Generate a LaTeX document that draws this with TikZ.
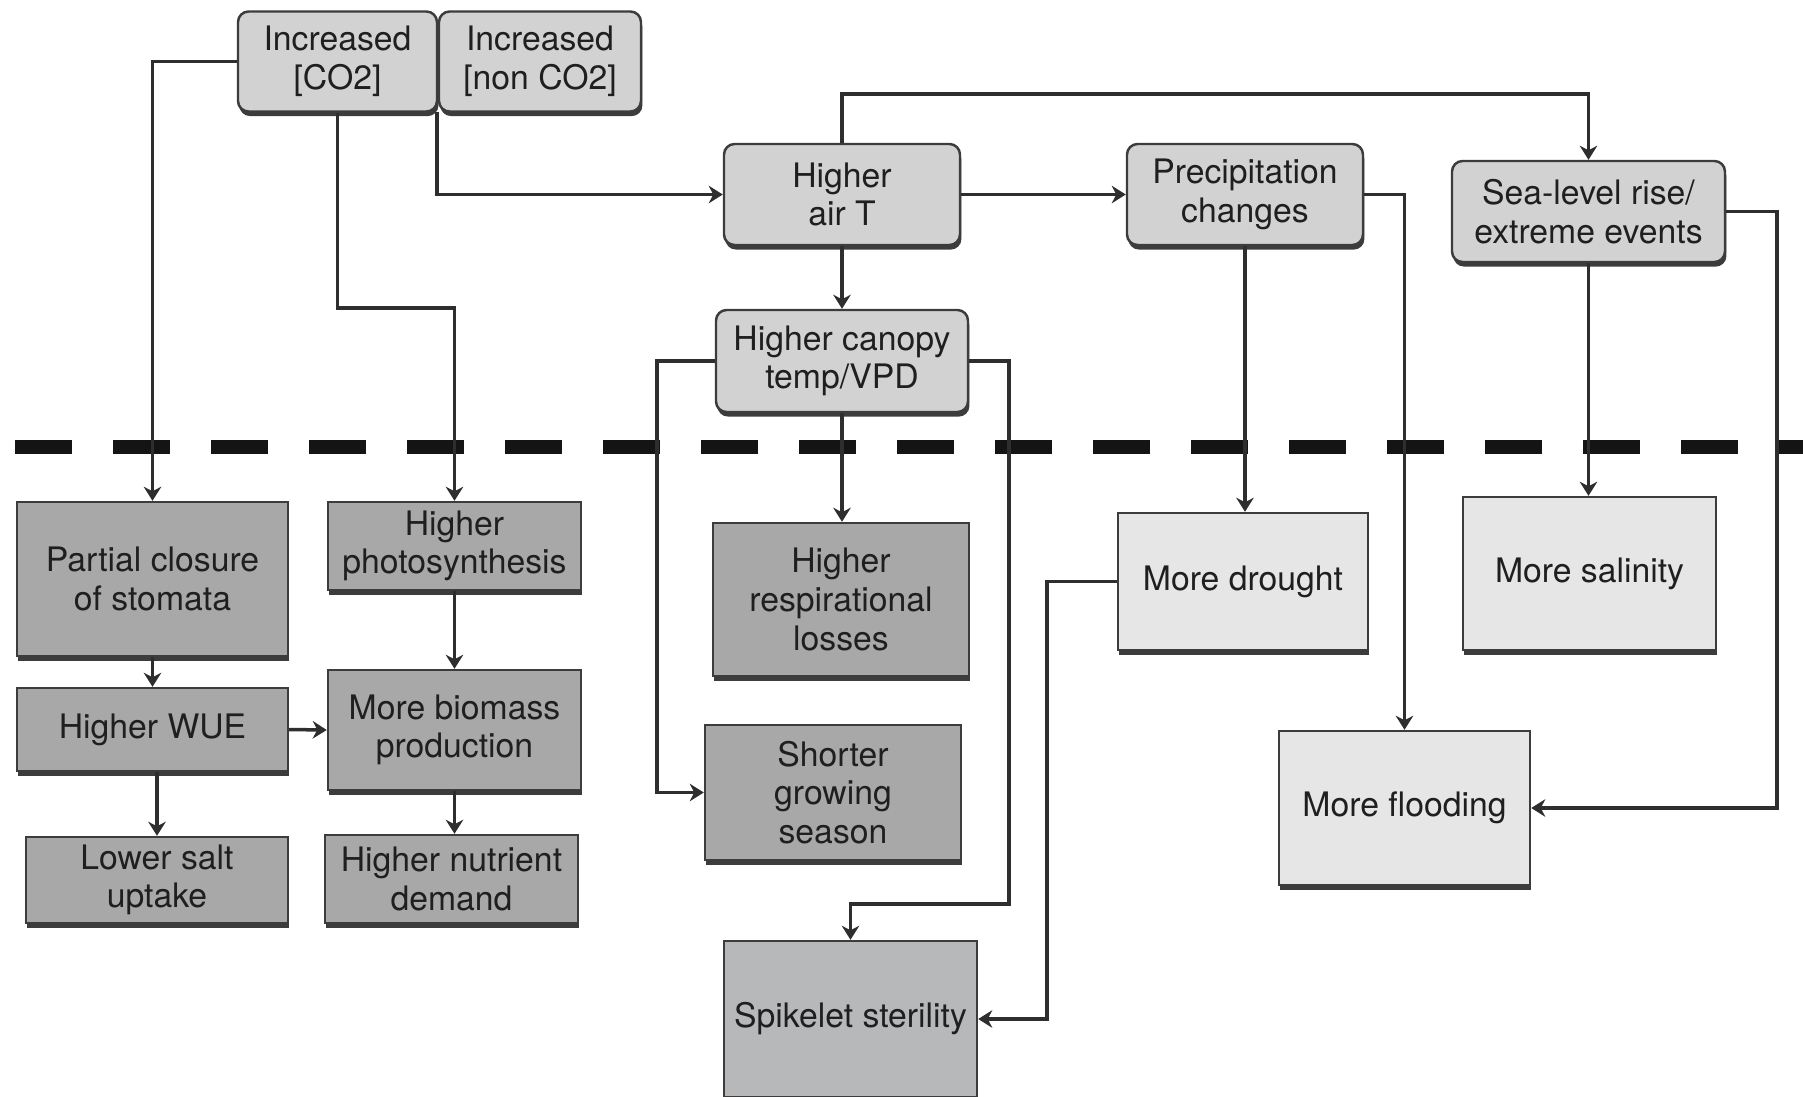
\documentclass[tikz,border=0pt]{standalone}
\usepackage{fontspec}
\setmainfont{TeX Gyre Heros}
\usetikzlibrary{arrows.meta,shadows}

\definecolor{topfill}{HTML}{D2D2D2}
\definecolor{darkfill}{HTML}{A8A8A8}
\definecolor{midfill}{HTML}{B6B8BA}
\definecolor{palefill}{HTML}{E6E6E6}
\definecolor{edge}{HTML}{3C3C3C}
\definecolor{wire}{HTML}{2E2E2E}

\tikzset{
  box/.style={draw=edge, line width=0.7pt, align=center, inner sep=0pt,
    font=\fontsize{9.6}{11}\selectfont, text=black!88,
    drop shadow={shadow xshift=0.4pt, shadow yshift=-1.3pt, fill=edge, opacity=1}},
  driver/.style={box, fill=topfill, rounded corners=3pt},
  effect/.style={box, fill=darkfill},
  mideffect/.style={box, fill=midfill},
  paleeffect/.style={box, fill=palefill},
  arr/.style={draw=wire, line width=1pt, -{Stealth[length=4pt,width=5pt]}},
  plainwire/.style={draw=wire, line width=1pt},
  divider/.style={draw=black!92, line width=4pt, dash pattern=on 0.57cm off 0.41cm}
}

\begin{document}
\begin{tikzpicture}
\useasboundingbox (0,0) rectangle (18.03,-10.96);

% boundary between climate drivers and crop responses
\draw[divider] (0.15,-4.47) -- (18.1,-4.47);

% climate drivers
\node[driver, minimum width=1.99cm, minimum height=1.00cm] (co2) at (3.375,-0.615) {Increased\\{}[CO2]};
\node[driver, minimum width=2.02cm, minimum height=1.00cm] (nonco2) at (5.40,-0.615) {Increased\\{}[non CO2]};
\node[driver, minimum width=2.36cm, minimum height=1.01cm] (airT) at (8.42,-1.945) {Higher\\air T};
\node[driver, minimum width=2.36cm, minimum height=1.01cm] (precip) at (12.45,-1.945) {Precipitation\\changes};
\node[driver, minimum width=2.73cm, minimum height=1.01cm] (sea) at (15.885,-2.115) {Sea-level rise/\\extreme events};
\node[driver, minimum width=2.52cm, minimum height=1.02cm] (canopy) at (8.42,-3.61) {Higher canopy\\temp/VPD};

% CO2 responses
\node[effect, minimum width=2.71cm, minimum height=1.54cm] (partial) at (1.525,-5.79) {Partial closure\\of stomata};
\node[effect, minimum width=2.53cm, minimum height=0.88cm] (photo) at (4.545,-5.46) {Higher\\photosynthesis};
\node[effect, minimum width=2.71cm, minimum height=0.83cm] (wue) at (1.525,-7.295) {Higher WUE};
\node[effect, minimum width=2.53cm, minimum height=1.20cm] (biomass) at (4.545,-7.30) {More biomass\\production};
\node[effect, minimum width=2.62cm, minimum height=0.86cm] (salt) at (1.57,-8.80) {Lower salt\\uptake};
\node[effect, minimum width=2.53cm, minimum height=0.88cm] (nutrient) at (4.515,-8.79) {Higher nutrient\\demand};

% temperature responses
\node[effect, minimum width=2.56cm, minimum height=1.53cm] (resp) at (8.41,-5.995) {Higher\\respirational\\losses};
\node[effect, minimum width=2.56cm, minimum height=1.35cm] (shorter) at (8.33,-7.925) {Shorter\\growing\\season};
\node[mideffect, minimum width=2.53cm, minimum height=1.56cm] (spike) at (8.505,-10.19) {Spikelet sterility};

% water and sea-level responses
\node[paleeffect, minimum width=2.50cm, minimum height=1.37cm] (drought) at (12.43,-5.815) {More drought};
\node[paleeffect, minimum width=2.53cm, minimum height=1.53cm] (salinity) at (15.895,-5.735) {More salinity};
\node[paleeffect, minimum width=2.51cm, minimum height=1.54cm] (flood) at (14.045,-8.08) {More flooding};

% bend points of the routed connectors
\coordinate (k2) at (3.375,-3.08);
\coordinate (k3) at (4.37,-1.115);
\coordinate (k4) at (12.0,-0.94);
\coordinate (k7) at (6.57,-7.925);
\coordinate (k8) at (10.09,-9.04);
\coordinate (k12) at (17.77,-8.08);
\coordinate (k14) at (10.47,-10.19);

% connectors from the drivers
\draw[arr] (co2.west) -| (partial.north);
\draw[arr] (co2.south) -- (k2) -| (photo.north);
\draw[arr] (k3) |- (airT.west);
\draw[arr] (airT.north) |- (k4) -| (sea.north);
\draw[arr] (airT.east) -- (precip.west);
\draw[arr] (airT.south) -- (canopy.north);
\draw[arr] (canopy.west) -| (k7) -- (shorter.west);
\draw[arr] (canopy.east) -| (k8) -| (spike.north);
\draw[arr] (canopy.south) -- (canopy.south |- resp.north);
\draw[arr] (precip.south) -- (precip.south |- drought.north);
\draw[arr] (precip.east) -| (flood.north);
\draw[arr] (sea.east) -| (k12) -- (flood.east);
\draw[arr] (sea.south) -- (sea.south |- salinity.north);
\draw[arr] (drought.west) -| (k14) -- (spike.east);

% connectors among the CO2 responses
\draw[arr] (partial.south) -- (wue.north);
\draw[arr] (wue.east) -- (biomass.west);
\draw[arr] (wue.south -| salt.north) -- (salt.north);
\draw[arr] (photo.south) -- (biomass.north);
\draw[arr] (biomass.south) -- (biomass.south |- nutrient.north);
\end{tikzpicture}
\end{document}
